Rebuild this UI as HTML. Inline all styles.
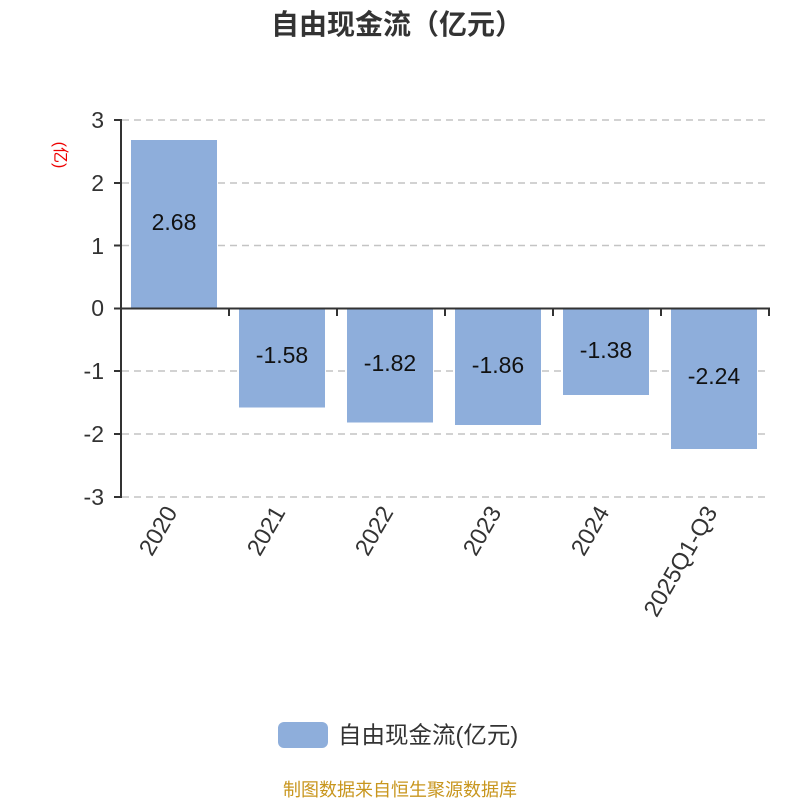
<!DOCTYPE html>
<html><head><meta charset="utf-8"><style>body{margin:0;background:#fff}svg{display:block}</style></head><body>
<svg width="800" height="800" xmlns="http://www.w3.org/2000/svg" font-family="'Liberation Sans','Noto Sans CJK SC',sans-serif">
<text x="397" y="34" text-anchor="middle" font-size="28" font-weight="bold" fill="#333">自由现金流（亿元）</text>
<text transform="translate(55,155) rotate(90)" text-anchor="middle" font-size="16" fill="#e00">(亿)</text>
<g stroke="#c4c4c4" stroke-dasharray="7,5" stroke-width="1.5">
<line x1="122" y1="120" x2="770" y2="120"/><line x1="122" y1="183" x2="770" y2="183"/><line x1="122" y1="245.5" x2="770" y2="245.5"/>
<line x1="122" y1="371" x2="770" y2="371"/><line x1="122" y1="434" x2="770" y2="434"/><line x1="122" y1="497" x2="770" y2="497"/>
</g>
<g fill="#8eaedb">
<rect x="131" y="140" width="86" height="168.5"/>
<rect x="239" y="308.5" width="86" height="99"/>
<rect x="347" y="308.5" width="86" height="114"/>
<rect x="455" y="308.5" width="86" height="116.5"/>
<rect x="563" y="308.5" width="86" height="86.5"/>
<rect x="671" y="308.5" width="86" height="140.5"/>
</g>
<g stroke="#333" stroke-width="2" fill="none">
<line x1="121" y1="119" x2="121" y2="498"/>
<line x1="114" y1="120" x2="121" y2="120"/><line x1="114" y1="183" x2="121" y2="183"/><line x1="114" y1="245.5" x2="121" y2="245.5"/><line x1="114" y1="308.5" x2="121" y2="308.5"/><line x1="114" y1="371" x2="121" y2="371"/><line x1="114" y1="434" x2="121" y2="434"/><line x1="114" y1="497" x2="121" y2="497"/>
<line x1="121" y1="308.5" x2="770" y2="308.5"/>
<line x1="229" y1="308" x2="229" y2="316"/><line x1="337" y1="308" x2="337" y2="316"/><line x1="445" y1="308" x2="445" y2="316"/><line x1="553" y1="308" x2="553" y2="316"/><line x1="661" y1="308" x2="661" y2="316"/><line x1="769" y1="308" x2="769" y2="316"/>
</g>
<g font-size="23" fill="#333" text-anchor="end">
<text x="104" y="128">3</text><text x="104" y="191">2</text><text x="104" y="254">1</text><text x="104" y="316">0</text><text x="104" y="379">-1</text><text x="104" y="442">-2</text><text x="104" y="505">-3</text>
</g>
<g font-size="23" fill="#111" text-anchor="middle">
<text x="174" y="230">2.68</text><text x="282" y="363">-1.58</text><text x="390" y="371">-1.82</text><text x="498" y="373">-1.86</text><text x="606" y="358">-1.38</text><text x="714" y="384">-2.24</text>
</g>
<g font-size="23.5" fill="#333" text-anchor="end">
<text transform="translate(178,512) rotate(-60)">2020</text>
<text transform="translate(286,512) rotate(-60)">2021</text>
<text transform="translate(394,512) rotate(-60)">2022</text>
<text transform="translate(502,512) rotate(-60)">2023</text>
<text transform="translate(610,512) rotate(-60)">2024</text>
<text transform="translate(718,512) rotate(-60)">2025Q1-Q3</text>
</g>
<rect x="278" y="722" width="50" height="26" rx="6" fill="#8eaedb"/>
<text x="338" y="743" font-size="23.5" fill="#333">自由现金流(亿元)</text>
<text x="400" y="796" text-anchor="middle" font-size="18" fill="#c8961e">制图数据来自恒生聚源数据库</text>
</svg>
</body></html>
